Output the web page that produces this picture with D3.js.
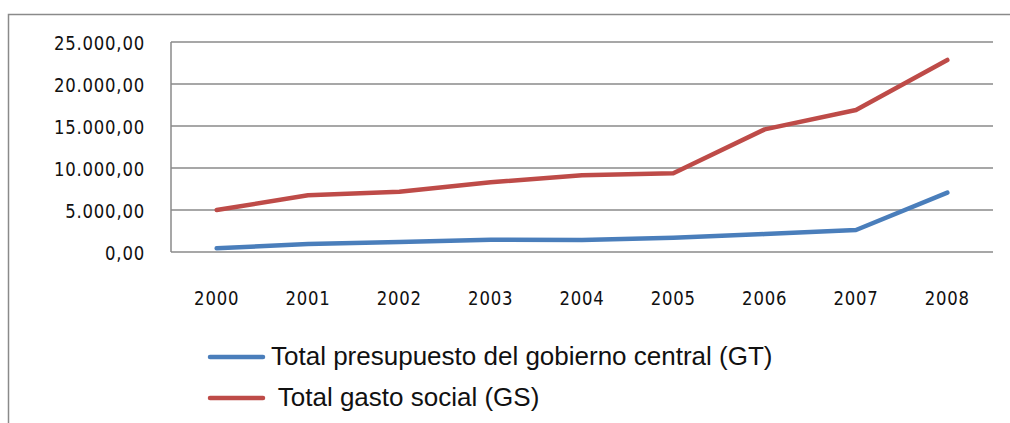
<!DOCTYPE html>
<html><head><meta charset="utf-8">
<script src="https://cdn.jsdelivr.net/npm/d3@7"></script>
<style>body{margin:0;background:#fff}svg{display:block}
.tk{font-family:'DejaVu Sans',Verdana,sans-serif;}
.lg{font-family:'Liberation Sans',Arial,sans-serif;}
</style>
</head><body>
<svg id="c" width="1010" height="423"></svg>
<script>
const years = ["2000","2001","2002","2003","2004","2005","2006","2007","2008"];
const gtValues = [440, 950, 1200, 1450, 1430, 1700, 2140, 2620, 7060];
const gsValues = [5000, 6750, 7180, 8300, 9150, 9370, 14600, 16900, 22860];
const yTicks = [0, 5000, 10000, 15000, 20000, 25000];
const seriesNames = ["Total presupuesto del gobierno central (GT)", " Total gasto social (GS)"];
const seriesColors = ["#4A7EBB", "#BE4B48"];

const svg = d3.select("#c");
const L = 171, R = 993, T = 42, B = 252;

svg.append("rect").attr("x", 8.5).attr("y", 14.5).attr("width", 1100).attr("height", 420)
  .attr("fill", "none").attr("stroke", "#8a8a8a").attr("stroke-width", 1.5);

const x = d3.scalePoint().domain(years).range([L, R]).padding(0.5);
const y = d3.scaleLinear().domain([0, 25000]).range([B, T]);

const fmt = v => d3.format(",.2f")(v).replace(/,/g, "X").replace(/\./g, ",").replace(/X/g, ".");

// gridlines
svg.append("g").selectAll("line").data(yTicks).join("line")
  .attr("x1", L).attr("x2", R).attr("y1", d => y(d)).attr("y2", d => y(d))
  .attr("stroke", "#8a8a8a").attr("stroke-width", 1.5);
svg.append("line").attr("x1", L).attr("x2", L).attr("y1", T).attr("y2", B)
  .attr("stroke", "#8a8a8a").attr("stroke-width", 1.5);

// y axis labels
const yAxis = d3.axisLeft(y).tickValues(yTicks).tickFormat(fmt).tickSize(0).tickPadding(0);
const ya = svg.append("g").attr("transform", `translate(${L - 26},0)`).call(yAxis);
ya.select(".domain").remove();
ya.selectAll(".tick").attr("transform", "translate(0,0)");
ya.selectAll("text").attr("class", "tk").attr("font-family", null).attr("font-size", 16.5)
  .attr("fill", "#111").attr("letter-spacing", 0.8).attr("dy", null).attr("y", 0).attr("x", 0)
  .attr("transform", d => `translate(0,${y(d) + 8}) scale(1,1.15)`);

// x axis labels
const xAxis = d3.axisBottom(x).tickSize(0).tickPadding(0);
const xa = svg.append("g").call(xAxis);
xa.select(".domain").remove();
xa.selectAll(".tick").attr("transform", d => `translate(${x(d)},0)`);
xa.selectAll("text").attr("class", "tk").attr("font-family", null).attr("font-size", 16.5)
  .attr("fill", "#111").attr("letter-spacing", 0.8).attr("dy", null).attr("y", 0)
  .attr("transform", `translate(0,305) scale(1,1.15)`);

// lines
const line = d3.line().x((d, i) => x(years[i])).y(d => y(d));
[gtValues, gsValues].forEach((vals, k) => {
  svg.append("path").datum(vals).attr("d", line).attr("fill", "none")
    .attr("stroke", seriesColors[k]).attr("stroke-width", 4.5)
    .attr("stroke-linejoin", "round").attr("stroke-linecap", "round");
});

// legend
const lg = svg.append("g");
seriesNames.forEach((name, k) => {
  const cy = 357 + k * 41;
  lg.append("line").attr("x1", 210).attr("x2", 263).attr("y1", cy).attr("y2", cy)
    .attr("stroke", seriesColors[k]).attr("stroke-width", 4.5).attr("stroke-linecap", "round");
  lg.append("text").attr("class", "lg").attr("x", 271).attr("y", cy + 8).attr("xml:space", "preserve")
    .attr("font-size", 26).attr("fill", "#111").text(name);
});
</script>
</body></html>
